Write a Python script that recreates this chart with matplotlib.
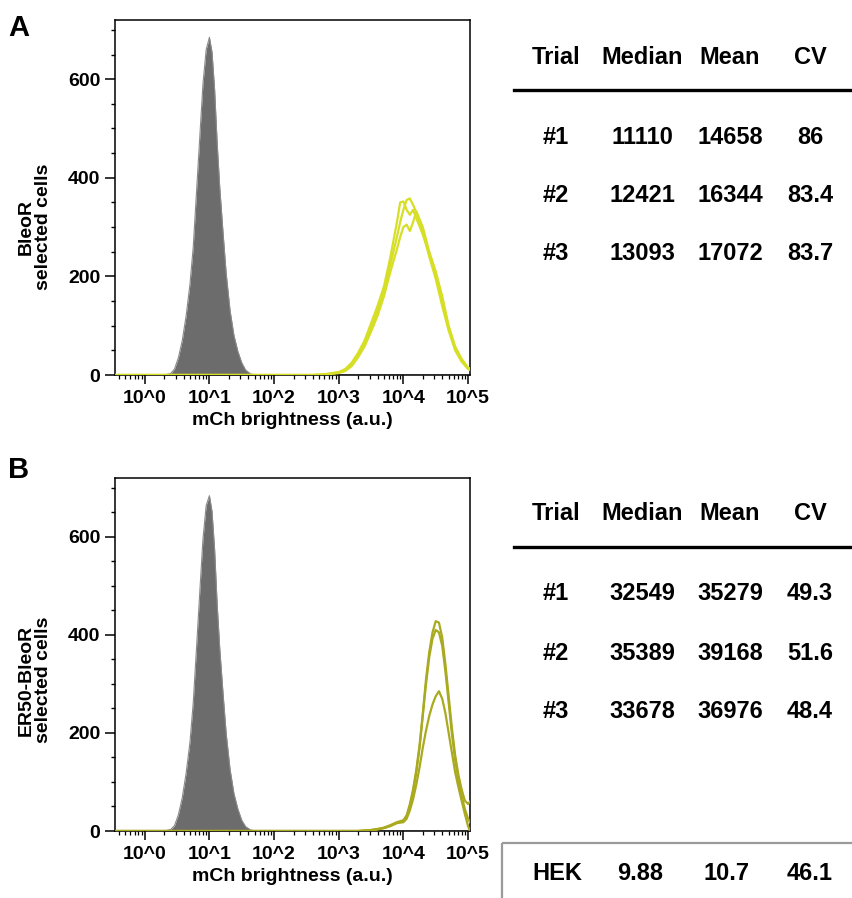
#!/usr/bin/python
# Flow cytometry histograms (mCh) + summary tables, panels A and B

import numpy as np
import matplotlib.pyplot as plt
from matplotlib.ticker import LogLocator, FixedLocator, MultipleLocator, NullFormatter
from matplotlib.patches import Rectangle

#-------------------#
# Font
#-------------------#
plt.rcParams['font.family'] = ['Liberation Sans', 'DejaVu Sans']
plt.rcParams['font.weight'] = 'bold'

#-------------------#
# Data
#-------------------#
# gray histogram (untransfected), x given as log10 exponents
gray_x = [-0.5, 0.30, 0.40, 0.46, 0.52, 0.58, 0.64, 0.70, 0.75, 0.80, 0.85, 0.90, 0.95,
          1.00, 1.04, 1.08, 1.12, 1.16, 1.21, 1.26, 1.32, 1.38, 1.44, 1.50, 1.56, 1.64, 1.72, 5.1]
gray_a = [0, 0, 3, 12, 35, 70, 120, 185, 260, 370, 480, 590, 660,
          685, 655, 580, 470, 380, 290, 205, 130, 80, 48, 25, 10, 2, 0, 0]
gray_b = [0, 0, 3, 11, 33, 68, 118, 182, 262, 372, 485, 595, 664,
          684, 652, 575, 462, 372, 282, 198, 125, 76, 45, 22, 9, 2, 0, 0]

# panel A, BleoR selected, three trials
yel_x = [-0.5, 2.4, 2.6, 2.8, 3.0, 3.1, 3.2, 3.3, 3.4, 3.5, 3.6, 3.7, 3.8, 3.9, 3.95,
         4.0, 4.05, 4.1, 4.15, 4.2, 4.3, 4.4, 4.5, 4.6, 4.7, 4.8, 4.9, 5.0, 5.05]
yel_a1 = [0, 0, 0, 2, 6, 12, 25, 45, 70, 105, 140, 180, 240, 310, 350,
          352, 335, 325, 335, 318, 285, 245, 205, 150, 95, 55, 30, 14, 10]
yel_a2 = [0, 0, 0, 1, 5, 10, 20, 40, 62, 95, 130, 170, 225, 280, 310,
          335, 355, 358, 345, 330, 290, 240, 195, 140, 90, 50, 27, 12, 9]
yel_a3 = [0, 0, 0, 1, 4, 8, 18, 36, 58, 88, 120, 160, 210, 255, 280,
          300, 305, 292, 310, 332, 300, 250, 210, 160, 100, 58, 33, 15, 12]

# panel B, ER50-BleoR selected, three trials
olv_x = [-0.5, 3.3, 3.5, 3.6, 3.7, 3.8, 3.9, 4.0, 4.05, 4.1, 4.15, 4.2, 4.25, 4.3, 4.35,
         4.4, 4.45, 4.5, 4.55, 4.6, 4.65, 4.7, 4.75, 4.8, 4.85, 4.9, 4.95, 5.0, 5.03]
olv_b1 = [0, 0, 2, 4, 7, 12, 18, 22, 32, 55, 85, 125, 175, 240, 310,
          365, 405, 428, 425, 395, 340, 275, 210, 155, 115, 85, 62, 55, 60]
olv_b2 = [0, 0, 2, 4, 6, 11, 17, 20, 28, 50, 80, 120, 170, 235, 300,
          355, 392, 410, 405, 378, 325, 262, 198, 145, 105, 72, 45, 25, 18]
olv_b3 = [0, 0, 1, 3, 6, 10, 16, 18, 25, 42, 65, 95, 130, 170, 205,
          235, 258, 275, 285, 270, 240, 200, 160, 120, 90, 62, 35, 10, 0]

# tables
tab_header = ["Trial", "Median", "Mean", "CV"]
trials = ["#1", "#2", "#3"]
tab_a = [["11110", "14658", "86"],
         ["12421", "16344", "83.4"],
         ["13093", "17072", "83.7"]]
tab_b = [["32549", "35279", "49.3"],
         ["35389", "39168", "51.6"],
         ["33678", "36976", "48.4"]]
hek_row = ["HEK", "9.88", "10.7", "46.1"]

x_ticklabels = ["10^0", "10^1", "10^2", "10^3", "10^4", "10^5"]

#-------------------#
# Figure
#-------------------#
W, H = 853, 898
fig = plt.figure(figsize=(W / 100, H / 100), dpi=100)

# background axes in pixel coords for tables / labels
bg = fig.add_axes([0, 0, 1, 1])
bg.set_xlim(0, W)
bg.set_ylim(H, 0)
bg.axis('off')


def px_axes(l, t, r, b):
	return fig.add_axes([l / W, 1 - b / H, (r - l) / W, (b - t) / H])


def hist_panel(ax, gray, xs, curves, color):
	gx = 10 ** np.array(gray_x)
	ax.fill_between(gx, 0, gray, color='#6c6c6c', lw=0, zorder=2)
	ax.plot(gx, gray, color='#8a8a8a', lw=0.8, zorder=2)
	for c in curves:
		ax.plot(10 ** np.array(xs), c, color=color, lw=1.6, zorder=3, clip_on=True)
	ax.set_xscale('log')
	ax.set_xlim(10 ** -0.46, 10 ** 5.03)
	ax.set_ylim(0, 720)
	ax.xaxis.set_major_locator(FixedLocator([1, 10, 100, 1e3, 1e4, 1e5]))
	ax.set_xticklabels(x_ticklabels)
	ax.xaxis.set_minor_locator(LogLocator(base=10, subs=np.arange(2, 10), numticks=20))
	ax.xaxis.set_minor_formatter(NullFormatter())
	ax.yaxis.set_major_locator(FixedLocator([0, 200, 400, 600]))
	ax.yaxis.set_minor_locator(MultipleLocator(50))
	ax.tick_params(axis='both', which='major', direction='out', width=1.1,
	               labelsize=14, top=False, right=False)
	ax.tick_params(axis='y', which='major', length=7, pad=3.5)
	ax.tick_params(axis='x', which='major', length=6.5, pad=4)
	ax.tick_params(axis='y', which='minor', length=3, width=1.0)
	ax.tick_params(axis='x', which='minor', length=3, width=0.9, top=False)
	for s in ax.spines.values():
		s.set_linewidth(1.1)
	for lab in ax.get_xticklabels() + ax.get_yticklabels():
		lab.set_fontweight('bold')
	ax.set_xlabel("mCh brightness (a.u.)", fontsize=14, fontweight='bold', labelpad=4)


axA = px_axes(115, 20, 470, 375)
hist_panel(axA, gray_a, yel_x, [yel_a1, yel_a2, yel_a3], '#d6df26')

axB = px_axes(115, 478, 470, 831)
hist_panel(axB, gray_b, olv_x, [olv_b1, olv_b2, olv_b3], '#a9aa1f')

# y labels and panel letters
bg.text(35, 227, "BleoR\nselected cells", rotation=90, ha='center', va='center',
        fontsize=14, fontweight='bold', multialignment='center', linespacing=1.0)
bg.text(35, 680, "ER50-BleoR\nselected cells", rotation=90, ha='center', va='center',
        fontsize=14, fontweight='bold', multialignment='center', linespacing=1.0)
bg.text(8, 28, "A", fontsize=21, fontweight='bold', ha='left', va='center')
bg.text(8, 470, "B", fontsize=21, fontweight='bold', ha='left', va='center')

#-------------------#
# Tables
#-------------------#
col_x = [556, 642, 730, 810]
tfs = 17


def draw_table(y0, rows):
	for cx, h in zip(col_x, tab_header):
		bg.text(cx, y0, h, ha='center', va='center', fontsize=tfs, fontweight='bold')
	bg.plot([514, W], [y0 + 33, y0 + 33], color='black', lw=2.4)
	row_y = [y0 + 80, y0 + 139, y0 + 197]
	for ry, t, r in zip(row_y, trials, rows):
		bg.text(col_x[0], ry, t, ha='center', va='center', fontsize=tfs, fontweight='bold')
		for cx, v in zip(col_x[1:], r):
			bg.text(cx, ry, v, ha='center', va='center', fontsize=tfs, fontweight='bold')


draw_table(57, tab_a)
draw_table(514, tab_b)

bg.add_patch(Rectangle((502, 843), 400, 100, fill=False, edgecolor='#9a9a9a', lw=1.6))
for cx, v in zip([557, 640, 727, 810], hek_row):
	bg.text(cx, 873, v, ha='center', va='center', fontsize=tfs, fontweight='bold')

fig.savefig("out.png", dpi=100)
